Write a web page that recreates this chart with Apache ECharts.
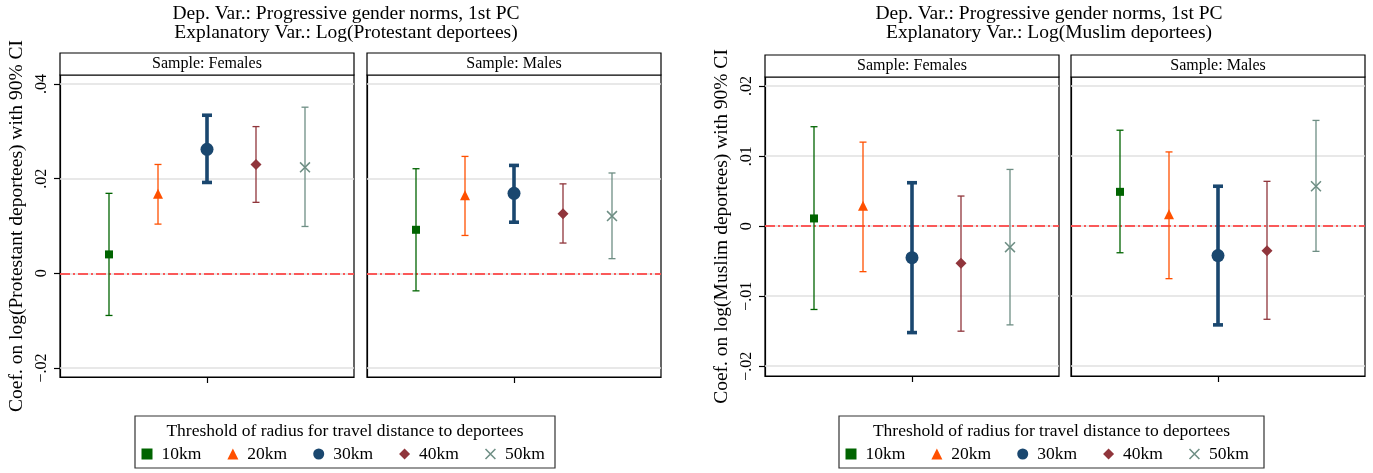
<!DOCTYPE html>
<html>
<head>
<meta charset="utf-8">
<script src="https://cdn.jsdelivr.net/npm/echarts@6/dist/echarts.min.js"></script>
<style>
  html, body { margin: 0; padding: 0; background: #fff; }
  #chart { width: 1373px; height: 473px; }
</style>
</head>
<body>
<div id="chart"></div>
<script>
const thresholds = ['10km', '20km', '30km', '40km', '50km']
const xPos = [1, 2, 3, 4, 5]

// Protestant deportees, females
const protFemCoef = [0.0040, 0.0168, 0.0262, 0.0230, 0.0224]
const protFemLow = [-0.0089, 0.0104, 0.0192, 0.0150, 0.0099]
const protFemHigh = [0.0169, 0.0230, 0.0334, 0.0310, 0.0351]
// Protestant deportees, males
const protMaleCoef = [0.0092, 0.0165, 0.0169, 0.0126, 0.0121]
const protMaleLow = [-0.0037, 0.0080, 0.0108, 0.0064, 0.0031]
const protMaleHigh = [0.0221, 0.0247, 0.0228, 0.0189, 0.0212]
// Muslim deportees, females
const muslFemCoef = [0.0011, 0.0029, -0.0045, -0.0053, -0.0030]
const muslFemLow = [-0.0119, -0.0065, -0.0152, -0.0150, -0.0141]
const muslFemHigh = [0.0142, 0.0120, 0.0062, 0.0043, 0.0081]
// Muslim deportees, males
const muslMaleCoef = [0.0049, 0.0017, -0.0042, -0.0035, 0.0057]
const muslMaleLow = [-0.0038, -0.0075, -0.0141, -0.0133, -0.0036]
const muslMaleHigh = [0.0137, 0.0106, 0.0057, 0.0064, 0.0151]

const protTicks = [-0.02, 0, 0.02, 0.04]
const muslTicks = [-0.02, -0.01, 0, 0.01, 0.02]

const FONT = 'Liberation Serif'
const colors = ['#006400', '#ff5000', '#1a476f', '#90353b', '#6e8e84']
const crossPath = 'path://M0,1L1,0L10,9L9,10ZM9,0L10,1L1,10L0,9Z'
const symbols = ['rect', 'triangle', 'circle', 'diamond', crossPath]
const symbolSizes = [8, 10, 13, 11, 11]

const PW = 294
const panels = [
    { left: 60, top: 75, height: 302, strip: 'Sample: Females', coef: protFemCoef, low: protFemLow, high: protFemHigh,
      ticks: protTicks, min: -0.0219, max: 0.0419, yName: 'Coef. on log(Protestant deportees) with 90% CI' },
    { left: 367, top: 75, height: 302, strip: 'Sample: Males', coef: protMaleCoef, low: protMaleLow, high: protMaleHigh,
      ticks: protTicks, min: -0.0219, max: 0.0419 },
    { left: 765, top: 77, height: 299, strip: 'Sample: Females', coef: muslFemCoef, low: muslFemLow, high: muslFemHigh,
      ticks: muslTicks, min: -0.0214, max: 0.0213, yName: 'Coef. on log(Muslim deportees) with 90% CI' },
    { left: 1071, top: 77, height: 299, strip: 'Sample: Males', coef: muslMaleCoef, low: muslMaleLow, high: muslMaleHigh,
      ticks: muslTicks, min: -0.0214, max: 0.0213 }
]

function fmtTick(v){
    if (Math.abs(v) < 1e-9) return '0'
    const s = Math.abs(v).toFixed(2).replace(/^0/, '')
    return (v < 0 ? '\u2212' : '') + s
}

const grids = [], xAxes = [], yAxes = [], scatterSeries = [], barSeries = [], graphics = []

panels.forEach((p, i) => {
    grids.push({ left: p.left, top: p.top, width: PW, height: p.height, show: true,
        borderColor: '#000', borderWidth: 1.2, backgroundColor: '#fff' })
    xAxes.push({
        type: 'value', gridIndex: i, min: 0, max: 6, position: 'bottom',
        axisLine: { show: true, onZero: false, lineStyle: { color: '#000', width: 1.2 } },
        axisTick: { show: true, customValues: [3], length: 6, lineStyle: { color: '#000', width: 1.2 } },
        axisLabel: { show: false },
        splitLine: { show: false }
    })
    yAxes.push({
        type: 'value', gridIndex: i, min: p.min, max: p.max, position: 'left',
        axisLine: { show: true, onZero: false, lineStyle: { color: '#000', width: 1.2 } },
        axisTick: { show: !!p.yName, customValues: p.ticks, length: 6, lineStyle: { color: '#000', width: 1.2 } },
        axisLabel: { show: !!p.yName, customValues: p.ticks, rotate: 90, margin: 10, formatter: fmtTick,
            fontFamily: FONT, fontSize: 16, color: '#000' },
        splitLine: { show: false },
        name: p.yName || '', nameLocation: 'middle', nameRotate: 90, nameGap: 33,
        nameTextStyle: { fontFamily: FONT, fontSize: 19.5, color: '#000' }
    })

    // strip header
    graphics.push({ type: 'rect', shape: { x: p.left, y: p.top - 22, width: PW, height: 22 },
        style: { fill: '#fff', stroke: '#000', lineWidth: 1.2 }, z: 10 })
    graphics.push({ type: 'text', x: p.left + PW / 2, y: p.top - 11,
        style: { text: p.strip, fontFamily: FONT, fontSize: 16, fill: '#000', align: 'center', verticalAlign: 'middle' }, z: 11 })

    thresholds.forEach((name, k) => {
        const sc = {
            type: 'scatter', name: name, xAxisIndex: i, yAxisIndex: i, z: 4,
            symbol: symbols[k], symbolSize: symbolSizes[k],
            itemStyle: { color: colors[k], opacity: 1 },
            data: xPos.map((x, j) => j === k ? [x, p.coef[j]] : null).filter(d => d)
        }
        if (k === 0) {
            sc.markLine = {
                silent: true, symbol: ['none', 'none'], z: 1,
                label: { show: false },
                data: p.ticks.map(t => ({ yAxis: t, lineStyle: { color: '#e0e0e0', width: 1.5, type: 'solid' } }))
                    .concat([{ yAxis: 0, lineStyle: { color: '#ff2a2a', width: 1.5, type: [10, 3, 2, 3] } }])
            }
        }
        scatterSeries.push(sc)

        const thick = k === 2
        barSeries.push({
            type: 'custom', name: name, xAxisIndex: i, yAxisIndex: i, z: 3,
            encode: { x: 0, y: [1, 2] },
            data: [[xPos[k], p.low[k], p.high[k]]],
            renderItem: (params, api) => {
                const x = api.value(0)
                const lo = api.coord([x, api.value(1)])
                const hi = api.coord([x, api.value(2)])
                const cap = thick ? 5 : 3.5
                const st = { stroke: colors[k], lineWidth: thick ? 3.6 : 1.3 }
                return { type: 'group', children: [
                    { type: 'line', shape: { x1: lo[0], y1: lo[1], x2: hi[0], y2: hi[1] }, style: st },
                    { type: 'line', shape: { x1: lo[0] - cap, y1: lo[1], x2: lo[0] + cap, y2: lo[1] }, style: st },
                    { type: 'line', shape: { x1: hi[0] - cap, y1: hi[1], x2: hi[0] + cap, y2: hi[1] }, style: st }
                ] }
            }
        })
    })
})

// titles
const titles = [
    { x: 346, lines: ['Dep. Var.: Progressive gender norms, 1st PC', 'Explanatory Var.: Log(Protestant deportees)'] },
    { x: 1049, lines: ['Dep. Var.: Progressive gender norms, 1st PC', 'Explanatory Var.: Log(Muslim deportees)'] }
]
titles.forEach(t => {
    t.lines.forEach((line, j) => {
        graphics.push({ type: 'text', x: t.x, y: 14 + j * 19,
            style: { text: line, fontFamily: FONT, fontSize: 19.5, fill: '#000', align: 'center', verticalAlign: 'middle' } })
    })
})

// legend boxes
const legendBoxes = [{ x: 135, w: 420, legendLeft: 141.5 }, { x: 839, w: 425, legendLeft: 845.5 }]
legendBoxes.forEach(b => {
    graphics.push({ type: 'rect', shape: { x: b.x, y: 416, width: b.w, height: 52 },
        style: { fill: '#fff', stroke: '#333', lineWidth: 1.2 }, z: -1 })
    graphics.push({ type: 'text', x: b.x + b.w / 2, y: 431,
        style: { text: 'Threshold of radius for travel distance to deportees', fontFamily: FONT, fontSize: 17.5,
            fill: '#000', align: 'center', verticalAlign: 'middle' } })
})

const legends = legendBoxes.map(b => ({
    left: b.legendLeft, top: 445, padding: 0, itemGap: 26, itemWidth: 11, itemHeight: 11,
    selectedMode: false,
    data: thresholds.map((n, k) => ({ name: n, icon: symbols[k] })),
    textStyle: { fontFamily: FONT, fontSize: 17.5, color: '#000', padding: [0, 0, 0, 4] }
}))

const chart = echarts.init(document.getElementById('chart'))
chart.setOption({
    animation: false,
    backgroundColor: '#fff',
    grid: grids,
    xAxis: xAxes,
    yAxis: yAxes,
    legend: legends,
    graphic: graphics,
    series: scatterSeries.concat(barSeries)
})
</script>
</body>
</html>
